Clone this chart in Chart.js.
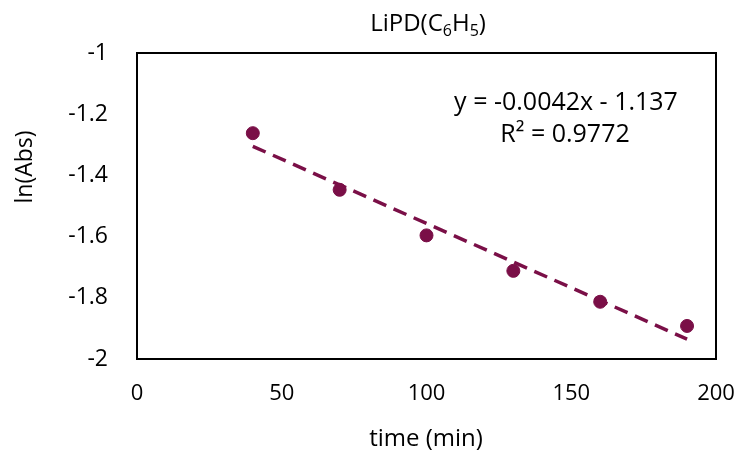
<!DOCTYPE html>
<html>
<head>
<meta charset="utf-8">
<script src="https://cdn.jsdelivr.net/npm/chart.js@4"></script>
<style>
  html, body { margin: 0; padding: 0; background: #fff; }
  #wrap { width: 740px; height: 452px; }
</style>
</head>
<body>
<div id="wrap"><canvas id="kinChart" width="740" height="452"></canvas></div>
<script>
// measured points
const timeMin = [40, 70, 100, 130, 160, 190];
const lnAbs = [-1.262, -1.447, -1.596, -1.712, -1.813, -1.892];
// linear trendline ends
const trendX = [40, 190];
const trendY = [-1.305, -1.935];
const xTicks = [0, 50, 100, 150, 200];
const yTicks = [-1, -1.2, -1.4, -1.6, -1.8, -2];
const eqText = 'y = -0.0042x - 1.137';
const r2Text = 'R² = 0.9772';
const xTitle = 'time (min)';
const yTitle = 'ln(Abs)';

const fontFam = "'Open Sans', sans-serif";
const markColor = '#7a0f47';

const frameAndText = {
  id: 'frameAndText',
  afterDraw(chart) {
    const ctx = chart.ctx;
    const a = chart.chartArea;
    ctx.save();
    ctx.strokeStyle = '#000';
    ctx.lineWidth = 2;
    ctx.strokeRect(a.left, a.top, a.right - a.left, a.bottom - a.top);

    // title with subscripts
    ctx.fillStyle = '#000';
    ctx.textBaseline = 'alphabetic';
    const parts = [['LiPD(C', 0], ['6', 1], ['H', 0], ['5', 1], [')', 0]];
    let w = 0;
    parts.forEach(p => {
      ctx.font = (p[1] ? '16px ' : '24px ') + fontFam;
      w += ctx.measureText(p[0]).width;
    });
    let x = 428 - w / 2;
    parts.forEach(p => {
      ctx.font = (p[1] ? '16px ' : '24px ') + fontFam;
      ctx.fillText(p[0], x, p[1] ? 36 : 31);
      x += ctx.measureText(p[0]).width;
    });

    // regression label
    ctx.font = '25px ' + fontFam;
    ctx.textAlign = 'center';
    ctx.fillText(eqText, 566, 110);
    ctx.fillText(r2Text, 565, 142);

    // axis titles
    ctx.font = '24px ' + fontFam;
    ctx.textBaseline = 'middle';
    ctx.fillText(xTitle, 426, 439);
    ctx.translate(25, 167);
    ctx.rotate(-Math.PI / 2);
    ctx.font = '23px ' + fontFam;
    ctx.fillText(yTitle, 0, 0);
    ctx.restore();
  }
};

const data = {
  datasets: [
    {
      type: 'scatter',
      label: 'ln(Abs)',
      data: timeMin.map((t, i) => ({ x: t, y: lnAbs[i] })),
      backgroundColor: markColor,
      borderColor: markColor,
      pointRadius: 6.5,
      pointHoverRadius: 6.5,
      order: 1
    },
    {
      type: 'line',
      label: 'Linear',
      data: trendX.map((t, i) => ({ x: t, y: trendY[i] })),
      borderColor: markColor,
      borderWidth: 3.5,
      borderDash: [14, 8],
      pointRadius: 0,
      fill: false,
      order: 2
    }
  ]
};

const config = {
  type: 'scatter',
  data: data,
  options: {
    responsive: false,
    animation: false,
    layout: { padding: { top: 53, right: 24, left: 0, bottom: 0 } },
    plugins: {
      legend: { display: false },
      tooltip: { enabled: false }
    },
    scales: {
      x: {
        type: 'linear',
        min: 0,
        max: 200,
        afterBuildTicks: s => { s.ticks = xTicks.map(v => ({ value: v })); },
        afterFit: s => { s.height = 93; s.paddingLeft = 0; s.paddingRight = 0; },
        grid: { display: false, drawTicks: false },
        border: { display: false },
        ticks: { color: '#000', padding: 22, font: { family: fontFam, size: 22 }, callback: v => v.toString() }
      },
      y: {
        type: 'linear',
        min: -2,
        max: -1,
        afterBuildTicks: s => { s.ticks = yTicks.map(v => ({ value: v })); },
        afterFit: s => { s.width = 137; s.paddingTop = 0; s.paddingBottom = 0; },
        grid: { display: false, drawTicks: false },
        border: { display: false },
        ticks: { color: '#000', padding: 29, font: { family: fontFam, size: 23 }, callback: v => v.toString() }
      }
    }
  },
  plugins: [frameAndText]
};

const kinChart = new Chart(document.getElementById('kinChart'), config);
</script>
</body>
</html>
